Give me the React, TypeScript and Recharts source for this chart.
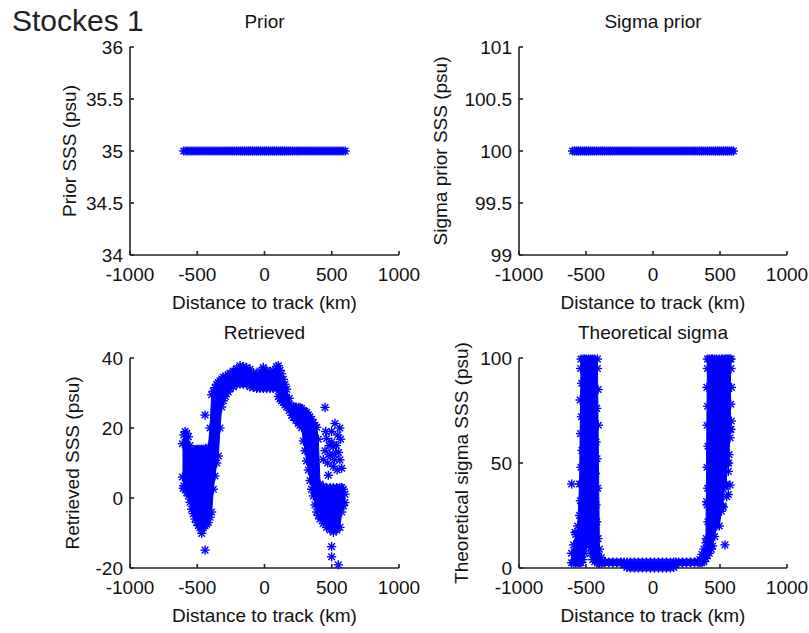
import { Area, ComposedChart, Scatter, XAxis, YAxis } from "recharts";

const BLUE = "#0000ff";
const INK = "#111111";
const FONT = '"Liberation Sans", Arial, Helvetica, sans-serif';
const X_AXIS_HEIGHT = 65;

const distanceTicks = [-1000, -500, 0, 500, 1000];

// along-track sample positions used by the prior panels (km)
const trackKm = [
  -600, -585, -570, -555, -540, -525, -510, -495, -480, -465, -450, -435, -420, -405, -390, -375,
  -360, -345, -330, -315, -300, -285, -270, -255, -240, -225, -210, -195, -180, -165, -150, -135,
  -120, -105, -90, -75, -60, -45, -30, -15, 0, 15, 30, 45, 60, 75, 90, 105, 120, 135, 150, 165, 180,
  195, 210, 225, 240, 255, 270, 285, 300, 315, 330, 345, 360, 375, 390, 405, 420, 435, 450, 465, 480,
  495, 510, 525, 540, 555, 570, 585, 600,
];
const priorSSS = 35;
const sigmaPriorSSS = 100;

// retrieved SSS: lower / upper edge of the dense cloud at each distance
const retrievedKm = [
  -610, -600, -590, -578, -566, -554, -542, -529, -517, -504, -492, -480, -467, -455, -442, -430,
  -418, -405, -393, -380, -368, -355, -343, -331, -318, -306, -290, -270, -257, -232, -207, -182,
  -157, -133, -108, -83, -58, -33, -9, 16, 41, 65, 90, 103, 115, 127, 140, 152, 165, 184, 202, 214,
  233, 252, 264, 276, 289, 301, 313, 326, 338, 350, 363, 375, 388, 400, 413, 437, 462, 487, 512,
  537, 561, 574, 586, 598,
];
const retrievedLow = [
  6, 3.5, 2.5, 1.5, 0.6, -1.2, -3.2, -4.5, -6, -7, -7.9, -8.5, -8.9, -8.5, -7.9, -7.5, -7, -5.5, -4,
  2.5, 6.3, 10, 12, 20, 26, 27.8, 29, 30.3, 31.2, 31.8, 32.5, 32.5, 32.5, 32.5, 31.8, 31.6, 31.3,
  31.3, 31.3, 31.3, 31.3, 31.3, 31.3, 29, 28.3, 27.8, 27.3, 26.6, 26, 25, 23.6, 23, 22.2, 21.3, 20.8,
  20.1, 16.3, 13.5, 10.6, 8, 5, 2.5, 0.6, -2, -4, -5, -6, -7.3, -8.4, -9.1, -9.8, -9.2, -8.4, -4,
  -2.2, -1.3,
];
const retrievedHigh = [
  15.5, 18, 19, 18.5, 17.5, 15, 13, 13, 13.8, 13.9, 13.9, 13.9, 13.9, 13.9, 13.9, 13.9, 14.5, 20,
  29.5, 30.5, 31.5, 32.5, 33, 33.5, 34, 34.5, 34.8, 35.2, 35.6, 36.3, 37, 37.8, 37.6, 37.3, 36.8,
  35.8, 35.5, 36.3, 37.3, 36.5, 35.8, 36.5, 37.5, 37.8, 36.5, 35.5, 33.9, 32.5, 31.1, 28.5, 26.3,
  26.2, 26, 25.9, 25.8, 25.5, 25, 24.7, 24.4, 23.8, 23.2, 22.5, 21.5, 20.8, 20.2, 16.8, 4, 3.3, 3, 3,
  3, 3, 3, 3, 2.5, 1.1,
];
// isolated retrieved points
const retrievedOutKm = [
  -604, -442, -467, -442, 450, 524, 499, 566, 462, 512, 450, 437, 561, 574, 512, 480, 470, 490, 530,
  545, 499, 499, 549, 455, 485, 500, 520, 535, 550, 560, 540, 475,
];
const retrievedOutSSS = [
  2.8, 23.7, -10.1, -14.9, 25.9, 21.3, 19, 16.8, 17, 14.7, 13.5, 11, 10.9, 8.5, 9, 15, 10, 12, 13, 18,
  -13.9, -16.8, -19.1, 19, 12.5, 16, 11, 15, 13, 20, 8, 6.5,
];

// theoretical sigma: lower / upper edge of the cloud at each distance
const sigmaKm = [
  -608, -592, -577, -562, -548, -537, -522, -510, -497, -480, -465, -450, -435, -415, -400, -385,
  -360, -330, -300, -270, -240, -215, -195, -170, -140, -110, -80, -50, -20, 10, 40, 70, 100, 130,
  155, 170, 190, 220, 250, 280, 310, 335, 350, 365, 380, 395, 406, 420, 435, 445, 460, 475, 495, 510,
  520, 535, 545, 555, 565, 575, 582,
];
const sigmaLow = [
  2.5, 2.5, 2.5, 2.5, 2.5, 2.5, 4, 7, 10.5, 10.5, 7, 4, 3, 2.5, 2.2, 2.2, 2.6, 2.6, 2.6, 2.5, 2.4, 1.5,
  0.3, 0, 0, 0, 0, 0, 0, 0, 0, 0, 0, 0, 0.3, 1.5, 2.4, 2.5, 2.5, 2.6, 2.6, 2.6, 2.6, 2.6, 3, 4.5, 6, 7,
  9, 10.5, 15, 20, 20, 27, 29.5, 39, 39, 50, 50, 66, 66,
];
const sigmaHigh = [
  7, 11, 16, 20, 40, 99.5, 99.5, 99.5, 99.5, 99.5, 99.5, 99.5, 99.5, 99.5, 9, 5, 2.8, 2.8, 2.8, 2.8,
  2.8, 2.8, 2.8, 2.8, 2.8, 2.8, 2.8, 2.8, 2.8, 2.8, 2.8, 2.8, 2.8, 2.8, 2.8, 2.8, 2.8, 2.8, 2.8, 2.8,
  2.8, 3.2, 4, 6.5, 9, 12, 99.5, 99.5, 99.5, 99.5, 99.5, 99.5, 99.5, 99.5, 99.5, 99.5, 99.5, 99.5,
  99.5, 99.5, 99.5,
];
// isolated points and ragged flanks of the two sigma columns
const sigmaStarKm = [
  -607, -582, 537, 550, 525, 562, 575, 400, -540, -532, -544, -534, -541, -530, -538, -533, -542,
  -548, -415, -410, -420, -408, -425, -418, -430, -413, -425, -420, -410, 406, 402, 408, 404, 410,
  403, 408, 404, 410, 398, 582, 586, 580, 584, 575, 568, 562, 548,
];
const sigmaStarVal = [
  40, 17, 11, 34, 29, 35, 39.5, 31.6, 95, 88, 80, 72, 64, 56, 48, 40, 32, 25, 95, 85, 76, 68, 60, 52,
  45, 38, 30, 22, 14, 95, 86, 77, 68, 58, 48, 38, 30, 22, 14, 95, 86, 78, 70, 62, 54, 46, 40,
];

type Pt = { x: number; y: number };
type BandRow = { x: number; range: [number, number] };

const toBand = (xs: number[], lo: number[], hi: number[]): BandRow[] =>
  xs.map((x, i) => ({ x, range: [lo[i], hi[i]] }));
const bandEdges = (rows: BandRow[]): Pt[] =>
  rows.flatMap((r) => [
    { x: r.x, y: r.range[0] },
    { x: r.x, y: r.range[1] },
  ]);
const toPoints = (xs: number[], ys: number[]): Pt[] => xs.map((x, i) => ({ x, y: ys[i] }));

const retrievedBand = toBand(retrievedKm, retrievedLow, retrievedHigh);
const sigmaBand = toBand(sigmaKm, sigmaLow, sigmaHigh);

const priorStars = trackKm.map((x) => ({ x, y: priorSSS }));
const sigmaPriorStars = trackKm.map((x) => ({ x, y: sigmaPriorSSS }));
const retrievedStars = [...bandEdges(retrievedBand), ...toPoints(retrievedOutKm, retrievedOutSSS)];
const sigmaStars = [...bandEdges(sigmaBand), ...toPoints(sigmaStarKm, sigmaStarVal)];

// matlab-style '*' marker
function Asterisk(props: any) {
  const { cx, cy } = props;
  if (cx == null || cy == null) return null;
  const r = 4.6;
  const d = 3.3;
  return (
    <g stroke={BLUE} strokeWidth={1.4}>
      <line x1={cx - r} y1={cy} x2={cx + r} y2={cy} />
      <line x1={cx} y1={cy - r} x2={cx} y2={cy + r} />
      <line x1={cx - d} y1={cy - d} x2={cx + d} y2={cy + d} />
      <line x1={cx - d} y1={cy + d} x2={cx + d} y2={cy - d} />
    </g>
  );
}

const tickStyle = { fill: INK, fontSize: 19, fontFamily: FONT };
const axisStyle = { stroke: "#222", strokeWidth: 1.6 };
const textStyle = { fill: INK, fontSize: 19, fontFamily: FONT };

type PanelProps = {
  left: number;
  top: number;
  width: number;
  height: number;
  plotTop: number;
  yAxisWidth: number;
  rightMargin: number;
  yDomain: [number, number];
  yTicks: number[];
  title: string;
  yLabel: string;
  yLabelX: number;
  band?: BandRow[];
  stars: Pt[];
};

function Panel(p: PanelProps) {
  const plotLeft = p.yAxisWidth;
  const plotRight = p.width - p.rightMargin;
  const plotBottom = p.height - X_AXIS_HEIGHT;
  const cx = (plotLeft + plotRight) / 2;
  const cy = (p.plotTop + plotBottom) / 2;

  return (
    <div style={{ position: "absolute", left: p.left, top: p.top, width: p.width, height: p.height }}>
      <ComposedChart
        width={p.width}
        height={p.height}
        data={p.band ?? []}
        margin={{ top: p.plotTop, right: p.rightMargin, bottom: 0, left: 0 }}
      >
        <XAxis
          dataKey="x"
          type="number"
          domain={[-1000, 1000]}
          ticks={distanceTicks}
          interval={0}
          height={X_AXIS_HEIGHT}
          tickSize={-4}
          tickMargin={16.5}
          tick={tickStyle}
          axisLine={axisStyle}
          tickLine={axisStyle}
        />
        <XAxis
          xAxisId="top"
          orientation="top"
          type="number"
          domain={[-1000, 1000]}
          ticks={distanceTicks}
          height={0}
          tickSize={-4}
          tick={false}
          axisLine={axisStyle}
          tickLine={axisStyle}
          allowDataOverflow
        />
        <YAxis
          type="number"
          domain={p.yDomain}
          ticks={p.yTicks}
          interval={0}
          width={p.yAxisWidth}
          tickSize={-4}
          tickMargin={11}
          tick={tickStyle}
          axisLine={axisStyle}
          tickLine={axisStyle}
        />
        <YAxis
          yAxisId="right"
          orientation="right"
          type="number"
          domain={p.yDomain}
          ticks={p.yTicks}
          width={0}
          tickSize={-4}
          tick={false}
          axisLine={axisStyle}
          tickLine={axisStyle}
          allowDataOverflow
        />
        {p.band && (
          <Area
            dataKey="range"
            type="linear"
            stroke={BLUE}
            strokeWidth={1}
            fill={BLUE}
            fillOpacity={1}
            dot={false}
            activeDot={false}
            isAnimationActive={false}
          />
        )}
        <Scatter data={p.stars} dataKey="y" shape={<Asterisk />} isAnimationActive={false} />
      </ComposedChart>
      <svg
        width={p.width}
        height={p.height}
        style={{ position: "absolute", left: 0, top: 0, pointerEvents: "none" }}
      >
        <text x={cx} y={p.plotTop - 19} textAnchor="middle" style={textStyle}>
          {p.title}
        </text>
        <text x={cx} y={plotBottom + 54} textAnchor="middle" style={textStyle}>
          Distance to track (km)
        </text>
        <text
          x={p.yLabelX}
          y={cy}
          textAnchor="middle"
          transform={`rotate(-90 ${p.yLabelX} ${cy})`}
          style={textStyle}
        >
          {p.yLabel}
        </text>
      </svg>
    </div>
  );
}

export default function App() {
  return (
    <div
      style={{
        position: "absolute",
        left: 0,
        top: 0,
        width: 809,
        height: 633,
        background: "#fff",
        overflow: "hidden",
      }}
    >
      <Panel
        left={0}
        top={0}
        width={430}
        height={320}
        plotTop={47}
        yAxisWidth={130}
        rightMargin={31}
        yDomain={[34, 36]}
        yTicks={[34, 34.5, 35, 35.5, 36]}
        title="Prior"
        yLabel="Prior SSS (psu)"
        yLabelX={76}
        stars={priorStars}
      />
      <Panel
        left={400}
        top={0}
        width={409}
        height={320}
        plotTop={47}
        yAxisWidth={119}
        rightMargin={22}
        yDomain={[99, 101]}
        yTicks={[99, 99.5, 100, 100.5, 101]}
        title="Sigma prior"
        yLabel="Sigma prior SSS (psu)"
        yLabelX={47}
        stars={sigmaPriorStars}
      />
      <Panel
        left={0}
        top={310}
        width={430}
        height={323}
        plotTop={48}
        yAxisWidth={130}
        rightMargin={31}
        yDomain={[-20, 40]}
        yTicks={[-20, 0, 20, 40]}
        title="Retrieved"
        yLabel="Retrieved SSS (psu)"
        yLabelX={79}
        band={retrievedBand}
        stars={retrievedStars}
      />
      <Panel
        left={400}
        top={310}
        width={409}
        height={323}
        plotTop={48}
        yAxisWidth={119}
        rightMargin={22}
        yDomain={[0, 100]}
        yTicks={[0, 50, 100]}
        title="Theoretical sigma"
        yLabel="Theoretical sigma SSS (psu)"
        yLabelX={68}
        band={sigmaBand}
        stars={sigmaStars}
      />
      <svg width={809} height={40} style={{ position: "absolute", left: 0, top: 0, pointerEvents: "none" }}>
        <text x={12} y={31} style={{ fill: "#222", fontSize: 30, fontFamily: FONT }}>
          Stockes 1
        </text>
      </svg>
    </div>
  );
}
